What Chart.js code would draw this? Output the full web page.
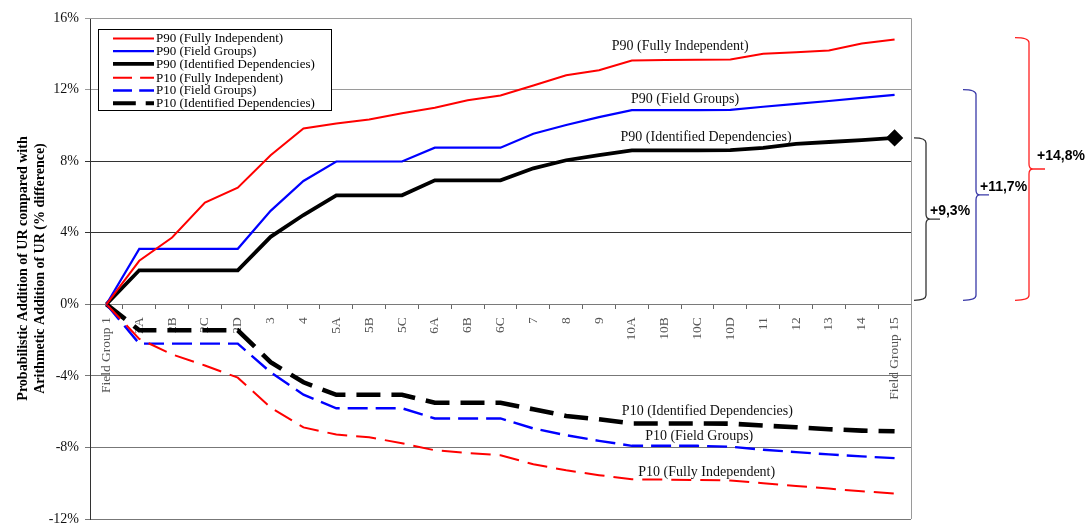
<!DOCTYPE html>
<html>
<head>
<meta charset="utf-8">
<script src="https://cdn.jsdelivr.net/npm/chart.js@4.4.1/dist/chart.umd.min.js"></script>
<style>
  html, body { margin: 0; padding: 0; background: #ffffff; }
  #wrap { width: 1086px; height: 524px; }
</style>
</head>
<body>
<div id="wrap"><canvas id="chart" width="1086" height="524"></canvas></div>
<script>
// Field group steps along the horizontal axis
const categories = ['Field Group 1', '2A', '2B', '2C', '2D', '3', '4', '5A', '5B', '5C',
  '6A', '6B', '6C', '7', '8', '9', '10A', '10B', '10C', '10D', '11', '12', '13', '14', 'Field Group 15'];

// % difference, probabilistic vs arithmetic addition of UR
const p90FullyIndependent = [0, 2.43, 3.73, 5.68, 6.52, 8.33, 9.83, 10.11, 10.33, 10.68, 10.98, 11.4, 11.67,
  12.23, 12.8, 13.08, 13.62, 13.65, 13.66, 13.68, 14.0, 14.08, 14.18, 14.57, 14.8];
const p90FieldGroups = [0, 3.1, 3.1, 3.1, 3.1, 5.22, 6.89, 7.98, 7.98, 7.98, 8.75, 8.75, 8.75,
  9.53, 10.02, 10.46, 10.85, 10.85, 10.85, 10.86, 11.04, 11.2, 11.36, 11.54, 11.7];
const p90IdentifiedDependencies = [0, 1.9, 1.9, 1.9, 1.9, 3.77, 4.99, 6.09, 6.09, 6.09, 6.93, 6.93, 6.93,
  7.6, 8.05, 8.34, 8.6, 8.6, 8.6, 8.62, 8.74, 8.96, 9.07, 9.18, 9.3];
const p10FullyIndependent = [0, -1.93, -2.8, -3.42, -4.1, -5.77, -6.88, -7.28, -7.43, -7.77, -8.16, -8.31, -8.44,
  -8.94, -9.28, -9.55, -9.78, -9.8, -9.82, -9.85, -10.0, -10.15, -10.3, -10.45, -10.58];
const p10FieldGroups = [0, -2.2, -2.2, -2.2, -2.2, -3.8, -5.05, -5.81, -5.81, -5.81, -6.38, -6.38, -6.38,
  -6.94, -7.32, -7.63, -7.91, -7.91, -7.91, -7.96, -8.13, -8.26, -8.39, -8.5, -8.6];
const p10IdentifiedDependencies = [0, -1.45, -1.45, -1.45, -1.45, -3.24, -4.36, -5.06, -5.06, -5.06, -5.5, -5.5, -5.5,
  -5.87, -6.24, -6.43, -6.66, -6.66, -6.66, -6.67, -6.78, -6.87, -6.98, -7.06, -7.1];

// Vertical axis ticks
const yTickValues = [-12, -8, -4, 0, 4, 8, 12, 16];

const SERIF = "'Liberation Serif', 'Times New Roman', serif";
const SANS = "'Liberation Sans', Arial, sans-serif";

function series(label, data, color, width, dash) {
  return {
    label, data,
    borderColor: color,
    backgroundColor: color,
    borderWidth: width,
    borderDash: dash || [],
    fill: false,
    tension: 0,
    pointRadius: 0,
    pointHoverRadius: 0
  };
}

const datasets = [
  series('P90 (Fully Independent)', p90FullyIndependent, '#ff0000', 2),
  series('P90 (Field Groups)', p90FieldGroups, '#0000ff', 2.2),
  series('P90 (Identified Dependencies)', p90IdentifiedDependencies, '#000000', 3.8),
  series('P10 (Fully Independent)', p10FullyIndependent, '#ff0000', 2, [20, 9]),
  series('P10 (Field Groups)', p10FieldGroups, '#0000ff', 2.4, [20, 8]),
  series('P10 (Identified Dependencies)', p10IdentifiedDependencies, '#000000', 4.6, [24, 11])
];
// diamond marker on the final P90 (Identified Dependencies) point
datasets[2].pointStyle = 'rectRot';
datasets[2].pointRadius = (ctx) => ctx.dataIndex === p90IdentifiedDependencies.length - 1 ? 6 : 0;

const fmtPct = (v) => '+' + v.toFixed(1).replace('.', ',') + '%';

// let the plot run to the canvas edge instead of reserving room for edge labels
const noEdgePadding = (scale) => {
  scale.paddingLeft = 0; scale.paddingRight = 0;
  scale.paddingTop = 0; scale.paddingBottom = 0;
};

// In-plot series captions, legend box, plot frame and spread braces
const decorations = {
  id: 'decorations',
  afterDraw(chart) {
    const { ctx, chartArea: area, scales: { x, y } } = chart;
    ctx.save();

    // frame: top and right edges of the plot
    ctx.strokeStyle = '#9a9a9a';
    ctx.lineWidth = 1;
    ctx.beginPath();
    ctx.moveTo(area.left, Math.round(area.top) + 0.5);
    ctx.lineTo(Math.round(area.right) + 0.5, Math.round(area.top) + 0.5);
    ctx.lineTo(Math.round(area.right) + 0.5, area.bottom);
    ctx.stroke();

    // series captions next to the curves
    const captions = [
      { ds: 0, at: 17.47, value: 14.43 },
      { ds: 1, at: 17.62, value: 11.45 },
      { ds: 2, at: 18.26, value: 9.31 },
      { ds: 5, at: 18.30, value: -5.98 },
      { ds: 4, at: 18.05, value: -7.37 },
      { ds: 3, at: 18.28, value: -9.37 }
    ];
    ctx.font = '14px ' + SERIF;
    ctx.fillStyle = '#111';
    ctx.textAlign = 'center';
    ctx.textBaseline = 'middle';
    captions.forEach(c => {
      ctx.fillText(chart.data.datasets[c.ds].label, x.getPixelForValue(c.at), y.getPixelForValue(c.value));
    });

    // legend box
    const lx = area.left + 8, ly = area.top + 11, lw = 233, lh = 81;
    ctx.fillStyle = '#fff';
    ctx.fillRect(lx, ly, lw, lh);
    ctx.strokeStyle = '#000';
    ctx.lineWidth = 1;
    ctx.strokeRect(Math.round(lx) + 0.5, Math.round(ly) + 0.5, lw, lh);
    ctx.font = '13px ' + SERIF;
    ctx.textAlign = 'left';
    ctx.textBaseline = 'middle';
    chart.data.datasets.forEach((ds, i) => {
      const rowY = ly + 9.5 + i * 12.7 + (i >= 3 ? 1.2 : 0);
      ctx.strokeStyle = ds.borderColor;
      ctx.lineWidth = Math.min(ds.borderWidth, 4);
      ctx.setLineDash(ds.borderDash.length ? [ds.borderDash[0] * 0.95, ds.borderDash[1] * 0.9] : []);
      ctx.beginPath();
      ctx.moveTo(lx + 15, rowY);
      ctx.lineTo(lx + 56, rowY);
      ctx.stroke();
      ctx.setLineDash([]);
      ctx.fillStyle = '#000';
      ctx.fillText(ds.label, lx + 58, rowY + 0.5);
    });

    // spread braces on the right: from 0% up to each final P90 value
    const finals = [
      { data: p90IdentifiedDependencies, top: 9.3, color: '#333333', x0: 3, x1: 15, tip: 29, tx: 19, ty: -3 },
      { data: p90FieldGroups, top: 12.0, color: '#3a3aa8', x0: 52, x1: 65, tip: 78, tx: 69, ty: -3 },
      { data: p90FullyIndependent, top: 14.9, color: '#ff2020', x0: 104, x1: 118, tip: 134, tx: 126, ty: -8 }
    ];
    const yBot = y.getPixelForValue(0) - 4;
    finals.forEach(b => {
      const yTop = y.getPixelForValue(b.top);
      const yMid = (yTop + yBot) / 2;
      const X0 = area.right + b.x0, X1 = area.right + b.x1, XT = area.right + b.tip;
      const r = 5;
      ctx.strokeStyle = b.color;
      ctx.lineWidth = 1.3;
      ctx.beginPath();
      ctx.moveTo(X0, yTop);
      ctx.quadraticCurveTo(X1, yTop, X1, yTop + r);
      ctx.lineTo(X1, yMid - r);
      ctx.quadraticCurveTo(X1, yMid, X1 + 4, yMid);
      ctx.lineTo(XT, yMid);
      ctx.moveTo(X1 + 4, yMid);
      ctx.quadraticCurveTo(X1, yMid, X1, yMid + r);
      ctx.lineTo(X1, yBot - r);
      ctx.quadraticCurveTo(X1, yBot, X0, yBot);
      ctx.stroke();

      ctx.font = 'bold 14px ' + SANS;
      ctx.fillStyle = '#000';
      ctx.textAlign = 'left';
      ctx.textBaseline = 'bottom';
      ctx.fillText(fmtPct(b.data[b.data.length - 1]), area.right + b.tx, yMid + b.ty + 2);
    });

    ctx.restore();
  }
};

new Chart(document.getElementById('chart'), {
  type: 'line',
  data: { labels: categories, datasets },
  options: {
    responsive: false,
    devicePixelRatio: 1,
    animation: false,
    events: [],
    layout: { autoPadding: false, padding: { left: 0, top: 18, right: 175, bottom: 5 } },
    plugins: {
      legend: { display: false },
      tooltip: { enabled: false }
    },
    scales: {
      x: {
        type: 'category',
        offset: true,
        position: { y: 0 },
        grid: {
          display: true,
          drawOnChartArea: false,
          drawTicks: true,
          tickLength: 4,
          offset: true,
          color: '#666'
        },
        border: { display: true, color: '#7a7a7a', width: 1 },
        ticks: {
          autoSkip: false,
          minRotation: 90,
          maxRotation: 90,
          padding: 9,
          color: '#555',
          font: { family: SERIF, size: 13.5 }
        },
        afterFit: noEdgePadding
      },
      y: {
        min: -12,
        max: 16,
        afterBuildTicks(scale) { scale.ticks = yTickValues.map(v => ({ value: v })); },
        ticks: {
          callback: (v) => v + '%',
          color: '#111',
          padding: 6,
          font: { family: SERIF, size: 14 }
        },
        grid: {
          tickLength: 5,
          color: (c) => {
            const v = c.tick && c.tick.value;
            if (v === 16 || v === 12) return '#9a9a9a';
            if (v === 8 || v === 4) return '#333';
            return '#777';
          },
          lineWidth: 1
        },
        border: { display: true, color: '#333', width: 1 },
        title: {
          display: true,
          text: ['Probabilistic Addition of UR compared with', 'Arithmetic Addition of UR (% difference)'],
          color: '#000',
          font: { family: SERIF, size: 14, weight: 'bold', lineHeight: 1.2 },
          padding: { top: 15, bottom: 0 }
        },
        afterFit(scale) {
          noEdgePadding(scale);
          scale.width = 90;
        }
      }
    }
  },
  plugins: [decorations]
});
</script>
</body>
</html>
